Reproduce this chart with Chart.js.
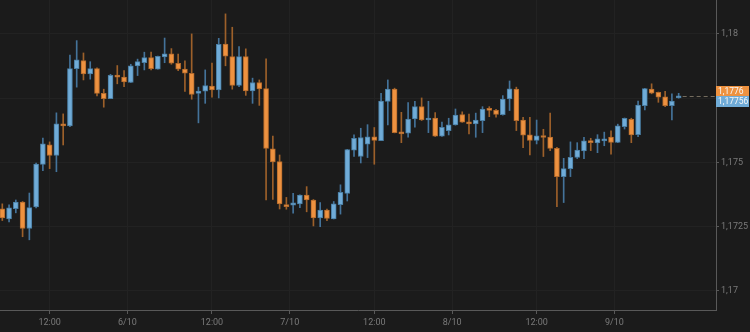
<!DOCTYPE html>
<html>
<head>
<meta charset="utf-8">
<script src="https://cdn.jsdelivr.net/npm/chart.js@4.4.0/dist/chart.umd.min.js"></script>
<style>
html, body { margin: 0; padding: 0; background: #1b1b1b; }
#wrap { width: 750px; height: 332px; }
</style>
</head>
<body>
<div id="wrap"><canvas id="priceChart" width="750" height="332"></canvas></div>
<script>
// hourly EUR candles, oldest first
var opens = [
    1.17320, 1.17280, 1.17320, 1.17346, 1.17243, 1.17327, 1.17492, 1.17569, 1.17527, 1.17650,
    1.17642, 1.17865, 1.17896, 1.17844, 1.17865, 1.17769, 1.17748, 1.17839, 1.17832, 1.17811,
    1.17876, 1.17888, 1.17908, 1.17863, 1.17911, 1.17923, 1.17886, 1.17863, 1.17847, 1.17769,
    1.17777, 1.17797, 1.17782, 1.17961, 1.17912, 1.17800, 1.17912, 1.17778, 1.17811, 1.17787,
    1.17553, 1.17503, 1.17336, 1.17334, 1.17339, 1.17373, 1.17354, 1.17284, 1.17315, 1.17280,
    1.17336, 1.17380, 1.17548, 1.17523, 1.17571, 1.17600, 1.17585, 1.17737, 1.17785, 1.17619,
    1.17614, 1.17669, 1.17717, 1.17665, 1.17673, 1.17602, 1.17624, 1.17646, 1.17686, 1.17658,
    1.17650, 1.17663, 1.17711, 1.17703, 1.17686, 1.17747, 1.17785, 1.17665, 1.17607, 1.17586,
    1.17604, 1.17599, 1.17555, 1.17445, 1.17476, 1.17520, 1.17545, 1.17585, 1.17576, 1.17584,
    1.17599, 1.17578, 1.17639, 1.17668, 1.17608, 1.17721, 1.17785, 1.17773, 1.17755, 1.17721,
    1.17751
];
var highs = [
    1.17339, 1.17335, 1.17354, 1.17348, 1.17381, 1.17498, 1.17595, 1.17580, 1.17693, 1.17689,
    1.17918, 1.17974, 1.17926, 1.17892, 1.17868, 1.17785, 1.17843, 1.17877, 1.17857, 1.17882,
    1.17902, 1.17929, 1.17929, 1.17914, 1.17984, 1.17943, 1.17922, 1.17895, 1.18000, 1.17793,
    1.17860, 1.17887, 1.17983, 1.18078, 1.18026, 1.17951, 1.17942, 1.17828, 1.17821, 1.17903,
    1.17603, 1.17529, 1.17364, 1.17380, 1.17374, 1.17406, 1.17356, 1.17344, 1.17319, 1.17348,
    1.17413, 1.17551, 1.17607, 1.17633, 1.17647, 1.17636, 1.17769, 1.17821, 1.17789, 1.17695,
    1.17733, 1.17738, 1.17751, 1.17738, 1.17694, 1.17657, 1.17672, 1.17708, 1.17697, 1.17688,
    1.17692, 1.17717, 1.17717, 1.17707, 1.17760, 1.17817, 1.17793, 1.17676, 1.17676, 1.17665,
    1.17629, 1.17692, 1.17559, 1.17516, 1.17580, 1.17577, 1.17598, 1.17594, 1.17608, 1.17618,
    1.17623, 1.17649, 1.17673, 1.17672, 1.17739, 1.17788, 1.17806, 1.17774, 1.17777, 1.17767,
    1.17769
];
var lows = [
    1.17274, 1.17269, 1.17304, 1.17211, 1.17199, 1.17323, 1.17468, 1.17476, 1.17464, 1.17568,
    1.17639, 1.17793, 1.17821, 1.17824, 1.17759, 1.17715, 1.17748, 1.17806, 1.17795, 1.17811,
    1.17838, 1.17860, 1.17860, 1.17863, 1.17888, 1.17882, 1.17857, 1.17776, 1.17746, 1.17654,
    1.17730, 1.17754, 1.17751, 1.17876, 1.17785, 1.17795, 1.17761, 1.17730, 1.17722, 1.17354,
    1.17356, 1.17319, 1.17318, 1.17303, 1.17324, 1.17308, 1.17253, 1.17250, 1.17274, 1.17280,
    1.17299, 1.17350, 1.17523, 1.17498, 1.17519, 1.17493, 1.17585, 1.17646, 1.17615, 1.17577,
    1.17598, 1.17637, 1.17663, 1.17616, 1.17601, 1.17601, 1.17607, 1.17645, 1.17656, 1.17611,
    1.17598, 1.17616, 1.17678, 1.17676, 1.17684, 1.17702, 1.17624, 1.17558, 1.17529, 1.17572,
    1.17523, 1.17546, 1.17328, 1.17344, 1.17445, 1.17515, 1.17515, 1.17546, 1.17538, 1.17565,
    1.17532, 1.17577, 1.17630, 1.17577, 1.17600, 1.17704, 1.17767, 1.17734, 1.17717, 1.17665,
    1.17750
];
var closes = [
    1.17284, 1.17323, 1.17346, 1.17243, 1.17324, 1.17494, 1.17572, 1.17527, 1.17650, 1.17642,
    1.17865, 1.17899, 1.17844, 1.17865, 1.17769, 1.17748, 1.17839, 1.17832, 1.17813, 1.17876,
    1.17892, 1.17908, 1.17865, 1.17913, 1.17923, 1.17886, 1.17863, 1.17847, 1.17765, 1.17778,
    1.17799, 1.17782, 1.17960, 1.17913, 1.17800, 1.17912, 1.17778, 1.17811, 1.17786, 1.17555,
    1.17502, 1.17339, 1.17328, 1.17343, 1.17373, 1.17354, 1.17284, 1.17315, 1.17282, 1.17339,
    1.17384, 1.17550, 1.17594, 1.17597, 1.17600, 1.17586, 1.17739, 1.17785, 1.17616, 1.17611,
    1.17669, 1.17717, 1.17665, 1.17673, 1.17602, 1.17637, 1.17646, 1.17684, 1.17657, 1.17650,
    1.17665, 1.17708, 1.17702, 1.17687, 1.17747, 1.17786, 1.17663, 1.17606, 1.17586, 1.17604,
    1.17597, 1.17555, 1.17445, 1.17476, 1.17520, 1.17548, 1.17584, 1.17577, 1.17592, 1.17592,
    1.17578, 1.17642, 1.17672, 1.17607, 1.17723, 1.17787, 1.17770, 1.17754, 1.17721, 1.17739,
    1.17756
];

// time axis: candle index where each label sits
var tickAt = [7, 18.5, 31, 42.5, 55, 66.5, 79, 90.5];
var tickLabels = ['12:00', '6/10', '12:00', '7/10', '12:00', '8/10', '12:00', '9/10'];
var priceTicks = [1.17, 1.1725, 1.175, 1.1775, 1.18];

// current quotes shown on the right edge
var askPrice = 1.1776;
var bidPrice = 1.17756;
var askText = '1,1776';
var bidText = '1,17756';

var UP = '#70acd8', DOWN = '#ee9240';
var UP_EDGE = '#4a7ea3', DOWN_EDGE = '#b36a2c';
var UP_WICK = '#44739a', DOWN_WICK = '#9d602a';
var AXIS = '#595959', GRID = '#222222', TEXT = '#7a7a7a';

function isUp(i){ return closes[i] >= opens[i]; }

var bodies = opens.map(function(o, i){ return {x: i, y: [o, closes[i]]}; });
var wicks = opens.map(function(o, i){ return {x: i, y: [lows[i], highs[i]]}; });

// no extra room for edge labels, the plot runs to the canvas top
function noPadding(s){
    s.paddingTop = 0;
    s.paddingBottom = 0;
    s.paddingLeft = 0;
    s.paddingRight = 0;
}

var quoteLabels = {
    id: 'quoteLabels',
    afterDraw: function(chart){
        var ctx = chart.ctx, area = chart.chartArea;
        var xs = chart.scales.x, ys = chart.scales.y;
        var last = closes.length - 1;
        var yAsk = Math.round(ys.getPixelForValue(askPrice)) + 0.5;
        var yBid = Math.round(ys.getPixelForValue(bidPrice));

        ctx.save();
        // dashed price line from the last candle to the axis
        ctx.setLineDash([4, 3]);
        ctx.lineWidth = 1;
        ctx.strokeStyle = 'rgba(190, 175, 150, 0.55)';
        ctx.beginPath();
        ctx.moveTo(xs.getPixelForValue(last) + 4, yAsk);
        ctx.lineTo(area.right, yAsk);
        ctx.stroke();
        ctx.setLineDash([]);

        var top = yBid - 1;
        ctx.fillStyle = DOWN;
        ctx.fillRect(area.right, top - 10, 33, 10);
        ctx.fillStyle = UP;
        ctx.fillRect(area.right, top, 33, 11);

        ctx.font = '8.5px Roboto';
        ctx.fillStyle = '#f7f7f7';
        ctx.textBaseline = 'middle';
        ctx.textAlign = 'left';
        ctx.fillText(askText, area.right + 2, top - 4.5);
        ctx.fillText(bidText, area.right + 2, top + 5.5);
        ctx.restore();
    }
};

var canvas = document.getElementById('priceChart').getContext('2d');
var chart = new Chart(canvas, {
    type: 'bar',
    data: {
        datasets: [
            {
                data: bodies,
                backgroundColor: function(c){ return isUp(c.dataIndex) ? UP : DOWN; },
                borderColor: function(c){ return isUp(c.dataIndex) ? UP_EDGE : DOWN_EDGE; },
                borderWidth: 1,
                borderSkipped: false,
                barThickness: 5,
                minBarLength: 2,
                grouped: false
            },
            {
                data: wicks,
                backgroundColor: function(c){ return isUp(c.dataIndex) ? UP_WICK : DOWN_WICK; },
                borderWidth: 0,
                barThickness: 1,
                grouped: false
            }
        ]
    },
    options: {
        responsive: false,
        animation: false,
        layout: { padding: 0 },
        plugins: {
            legend: { display: false },
            tooltip: { enabled: false }
        },
        scales: {
            x: {
                type: 'linear',
                min: -0.34,
                max: 105.52,
                offset: false,
                afterBuildTicks: function(s){ s.ticks = tickAt.map(function(v){ return {value: v}; }); },
                afterFit: function(s){ s.height = 22; noPadding(s); },
                grid: { color: GRID, tickColor: AXIS, tickLength: 4, offset: false },
                border: { color: AXIS },
                ticks: {
                    autoSkip: false,
                    maxRotation: 0,
                    padding: 3,
                    color: TEXT,
                    font: { family: 'Roboto', size: 9 },
                    callback: function(v, i){ return tickLabels[i]; }
                }
            },
            y: {
                position: 'right',
                min: 1.16926,
                max: 1.18132,
                afterBuildTicks: function(s){ s.ticks = priceTicks.map(function(v){ return {value: v}; }); },
                afterFit: function(s){ s.width = 34; noPadding(s); },
                grid: { color: GRID, tickColor: AXIS, tickLength: 3 },
                border: { color: AXIS },
                ticks: {
                    padding: 2,
                    color: TEXT,
                    font: { family: 'Roboto', size: 9 },
                    callback: function(v){ return String(v).replace('.', ','); }
                }
            }
        }
    },
    plugins: [quoteLabels]
});
</script>
</body>
</html>
